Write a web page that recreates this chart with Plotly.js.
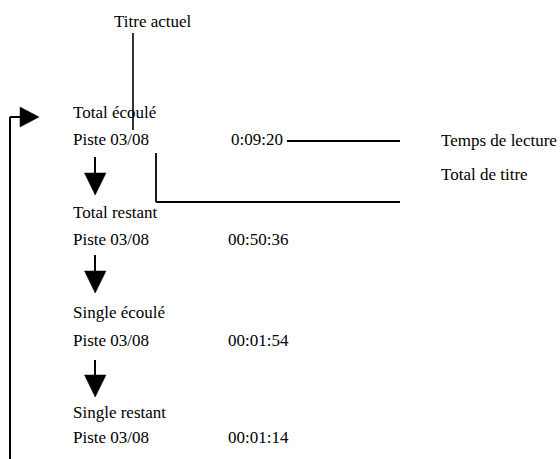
<!DOCTYPE html>
<html>
<head>
<meta charset="utf-8">
<script src="https://cdn.plot.ly/plotly-3.0.1.min.js"></script>
<style>html,body{margin:0;padding:0;background:#fff;}#chart{width:560px;height:459px;}</style>
</head>
<body>
<div id="chart"></div>
<script>
// Text content of the diagram
var modeLabels = ["Total écoulé", "Total restant", "Single écoulé", "Single restant"];
var trackLabels = ["Piste 03/08", "Piste 03/08", "Piste 03/08", "Piste 03/08"];
var timeValues = ["0:09:20", "00:50:36", "00:01:54", "00:01:14"];
var topLabel = "Titre actuel";
var calloutLabels = ["Temps de lecture", "Total de titre"];

// Layout (pixel-like coordinates, y downward)
var modeBase = [118, 218, 318, 418];
var trackBase = [145, 245, 346, 443];
var timeX = [230, 227, 227, 227];
var textX = 72;
var fs = 17;
var off = 5.5;
var font = {family: "Liberation Serif", size: fs, color: "#000"};

var ann = [];
function addText(t, x, base) {
  ann.push({text: t, x: x, y: base - off, xref: "x", yref: "y", xanchor: "left", yanchor: "middle",
            showarrow: false, font: font, borderpad: 0});
}
addText(topLabel, 113, 27);
for (var i = 0; i < modeLabels.length; i++) {
  addText(modeLabels[i], textX, modeBase[i]);
  addText(trackLabels[i], textX, trackBase[i]);
  addText(timeValues[i], timeX[i], trackBase[i]);
}
addText(calloutLabels[0], 440, 146);
addText(calloutLabels[1], 440, 180);

var shapes = [];
function seg(x0, y0, x1, y1, w) {
  shapes.push({type: "line", xref: "x", yref: "y", x0: x0, y0: y0, x1: x1, y1: y1,
               line: {color: "#000", width: w || 1.6}});
}
function tri(path) {
  shapes.push({type: "path", xref: "x", yref: "y", path: path, fillcolor: "#000",
               line: {color: "#000", width: 0.5}});
}
// callout lines
seg(133, 33, 133, 130);
seg(287, 141, 400, 141, 1.8);
seg(156, 153, 156, 202, 1.8);
seg(156, 202, 400, 202, 1.8);
// loop-back arrow on the left
seg(10, 117, 10, 459, 2);
seg(10, 117, 21, 117, 2);
tri("M 20 107 L 39 117 L 20 127 Z");
// down arrows
var arrowTops = [157, 255, 360];
var arrowTips = [195, 293, 397];
for (var k = 0; k < arrowTops.length; k++) {
  seg(95, arrowTops[k], 95, arrowTips[k] - 20, 2);
  tri("M 84.5 " + (arrowTips[k] - 22) + " L 106 " + (arrowTips[k] - 22) + " L 95.2 " + arrowTips[k] + " Z");
}

var layout = {
  width: 560, height: 459,
  margin: {l: 0, r: 0, t: 0, b: 0},
  paper_bgcolor: "#fff", plot_bgcolor: "#fff",
  showlegend: false,
  font: font,
  xaxis: {range: [0, 560], visible: false, fixedrange: true},
  yaxis: {range: [459, 0], visible: false, fixedrange: true},
  annotations: ann,
  shapes: shapes
};
Plotly.newPlot("chart", [{x: [], y: [], type: "scatter", mode: "markers", hoverinfo: "skip"}], layout,
               {staticPlot: true, displayModeBar: false});
</script>
</body>
</html>
